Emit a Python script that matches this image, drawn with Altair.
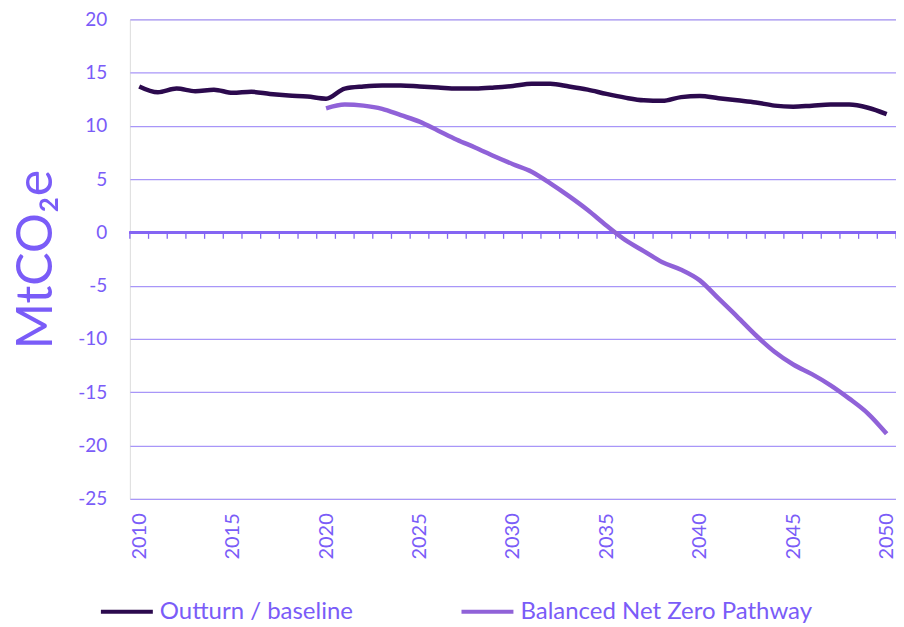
import altair as alt
import pandas as pd

years = list(range(2010, 2051))
outturn = [13.7, 13.15, 13.5, 13.25, 13.4, 13.1, 13.2, 13.0, 12.85, 12.75, 12.55,
           13.5, 13.7, 13.8, 13.8, 13.7, 13.6, 13.5, 13.5, 13.6, 13.75,
           13.95, 13.95, 13.7, 13.4, 13.0, 12.65, 12.4, 12.35, 12.7, 12.8,
           12.6, 12.4, 12.2, 11.9, 11.8, 11.9, 12.0, 12.0, 11.7, 11.1]
nz_years = list(range(2020, 2051))
netzero = [11.65, 12.0, 11.9, 11.6, 11.0, 10.4, 9.55, 8.7, 7.95, 7.15, 6.4,
           5.7, 4.6, 3.4, 2.1, 0.65, -0.7, -1.75, -2.8, -3.5, -4.5,
           -6.2, -7.9, -9.65, -11.2, -12.4, -13.3, -14.35, -15.6, -17.0, -18.9]
series = ["Outturn / baseline", "Balanced Net Zero Pathway"]
colors = ["#2C0A4E", "#9062D8"]
y_ticks = [20, 15, 10, 5, 0, -5, -10, -15, -20, -25]
x_labels = [2010, 2015, 2020, 2025, 2030, 2035, 2040, 2045, 2050]

TXT = "#7A5CF8"
FONT = "Lato"

df = pd.DataFrame(
    [{"year": y, "value": v, "series": series[0]} for y, v in zip(years, outturn)]
    + [{"year": y, "value": v, "series": series[1]} for y, v in zip(nz_years, netzero)]
)
ticks_df = pd.DataFrame({"b": [y - 0.5 for y in years] + [years[-1] + 0.5]})

xscale = alt.Scale(domain=[years[0] - 0.5, years[-1] + 0.5], nice=False, zero=False)
yscale = alt.Scale(domain=[-25, 20], nice=False)

lines = alt.Chart(df).mark_line(strokeWidth=4.5, interpolate="monotone").encode(
    x=alt.X("year:Q", scale=xscale,
            axis=alt.Axis(values=x_labels, labelAngle=-90, labelAlign="right",
                          labelBaseline="middle", labelPadding=14, domain=False,
                          ticks=False, grid=False, labelColor=TXT, labelFontSize=20,
                          labelFont=FONT, labelExpr="datum.value + ''", title=None)),
    y=alt.Y("value:Q", scale=yscale,
            axis=alt.Axis(values=y_ticks, grid=True, gridColor="#A896F8", gridWidth=1.3,
                          domain=False, ticks=False, labelColor=TXT, labelFontSize=19,
                          labelFont=FONT, labelPadding=23, title="MtCO₂e",
                          labelExpr="datum.value + ''",
                          titleFontSize=50, titleFont=FONT, titleFontWeight="normal",
                          titleColor=TXT, titlePadding=16)),
    color=alt.Color("series:N", scale=alt.Scale(domain=series, range=colors),
                    legend=alt.Legend(orient="none", legendX=-31, legendY=565,
                                      direction="horizontal", title=None,
                                      symbolType="stroke", symbolSize=2704,
                                      symbolStrokeWidth=4, labelFontSize=24,
                                      labelFont=FONT, labelColor=TXT, labelOffset=5,
                                      labelLimit=600, columnPadding=100)),
)

zero = alt.Chart(ticks_df).mark_rule(color="#8466F2", strokeWidth=1.5).encode(
    y=alt.datum(0), x=alt.value(0), x2=alt.value(767)
)
zticks = alt.Chart(ticks_df).mark_rule(color="#8466F2", strokeWidth=1.3).encode(
    x=alt.X("b:Q", scale=xscale), y=alt.datum(0), y2=alt.datum(-0.6)
)

chart = alt.layer(zero, zticks, lines).properties(
    width=767, height=480,
    autosize=alt.AutoSizeParams(type="none"),
    padding={"left": 122, "top": 11, "right": 0, "bottom": 126},
).configure_view(stroke=None).configure(background="white")

chart.save("out.html", embed_options={"renderer": "svg", "actions": False})
